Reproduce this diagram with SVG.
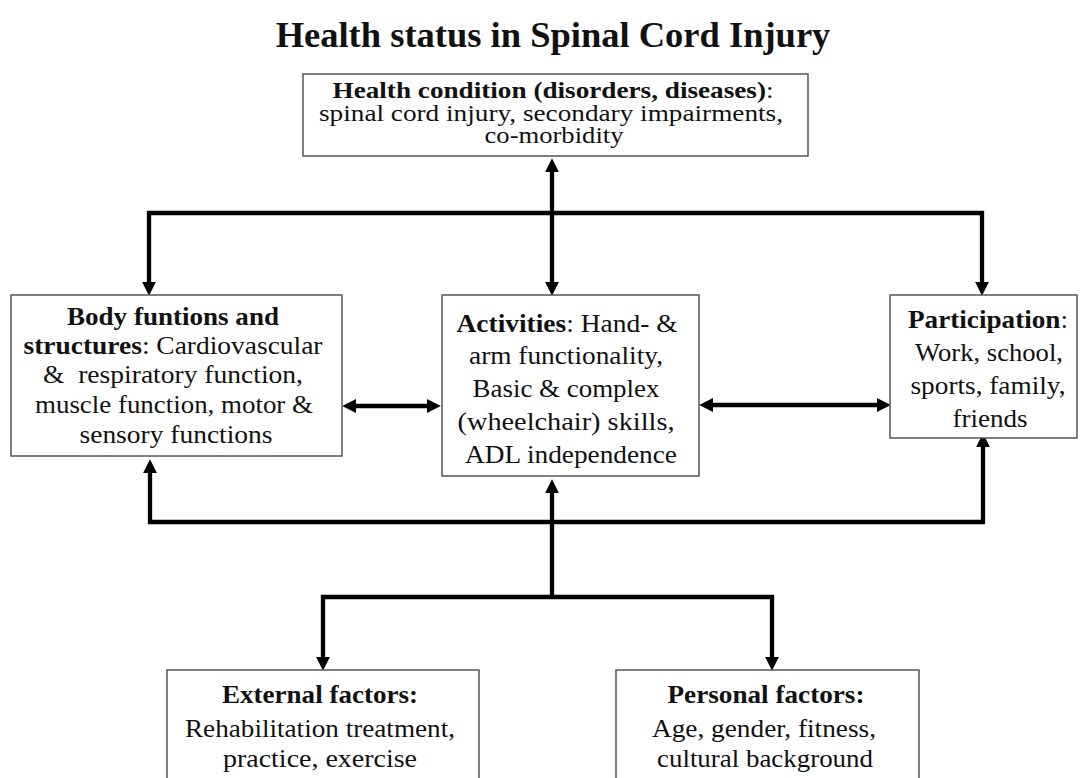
<svg xmlns="http://www.w3.org/2000/svg" width="1083" height="778" viewBox="0 0 1083 778">
<style>
text{font-family:"Liberation Serif","Times New Roman",serif;font-size:25px;fill:#111;text-anchor:middle}
.b{font-weight:bold}
.hc{font-size:23px}
.title{font-size:36.5px;font-weight:bold}
.box{fill:#fff;stroke:#555;stroke-width:1.5}
.con{fill:none;stroke:#000;stroke-width:4.3;stroke-linejoin:miter}
</style>
<defs>
<marker id="ah" markerUnits="userSpaceOnUse" markerWidth="14" markerHeight="14" viewBox="0 0 13 13" refX="3" refY="6.5" orient="auto-start-reverse">
<path d="M0,0 L13,6.5 L0,13 z" fill="#000"/>
</marker>
</defs>
<rect width="1083" height="778" fill="#fff"/>
<text class="title" x="553" y="47">Health status in Spinal Cord Injury</text>

<g id="connectors">
<path class="con" d="M552,169 V285" marker-start="url(#ah)" marker-end="url(#ah)"/>
<path class="con" d="M149,285 V213 H982 V285" marker-start="url(#ah)" marker-end="url(#ah)"/>
<path class="con" d="M353,406 H430" marker-start="url(#ah)" marker-end="url(#ah)"/>
<path class="con" d="M710,405 H880" marker-start="url(#ah)" marker-end="url(#ah)"/>
<path class="con" d="M150,470 V522 H983 V444" marker-start="url(#ah)" marker-end="url(#ah)"/>
<path class="con" d="M552,490 V597" marker-start="url(#ah)"/>
<path class="con" d="M323,660 V597 H772 V660" marker-start="url(#ah)" marker-end="url(#ah)"/>
</g>

<g id="health">
<rect class="box" x="303" y="74" width="505" height="82"/>
<text class="hc" x="553" y="98" textLength="441" lengthAdjust="spacingAndGlyphs"><tspan class="b">Health condition (disorders, diseases)</tspan>:</text>
<text class="hc" x="551" y="121" textLength="464" lengthAdjust="spacingAndGlyphs">spinal cord injury, secondary impairments,</text>
<text class="hc" x="554" y="143" textLength="139" lengthAdjust="spacingAndGlyphs">co-morbidity</text>
</g>

<g id="body">
<rect class="box" x="11" y="295" width="331" height="161"/>
<text x="173" y="325" class="b" textLength="212" lengthAdjust="spacingAndGlyphs">Body funtions and</text>
<text x="173" y="354" textLength="299" lengthAdjust="spacingAndGlyphs"><tspan class="b">structures</tspan>: Cardiovascular</text>
<text x="173" y="383" xml:space="preserve" textLength="260" lengthAdjust="spacingAndGlyphs">&amp;  respiratory function,</text>
<text x="174" y="413" textLength="278" lengthAdjust="spacingAndGlyphs">muscle function, motor &amp;</text>
<text x="176" y="443" textLength="193" lengthAdjust="spacingAndGlyphs">sensory functions</text>
</g>

<g id="activities">
<rect class="box" x="442" y="295" width="257" height="181"/>
<text x="567" y="332" textLength="221" lengthAdjust="spacingAndGlyphs"><tspan class="b">Activities</tspan>: Hand- &amp;</text>
<text x="566" y="364" textLength="194" lengthAdjust="spacingAndGlyphs">arm functionality,</text>
<text x="566" y="397" textLength="187" lengthAdjust="spacingAndGlyphs">Basic &amp; complex</text>
<text x="566" y="430" textLength="217" lengthAdjust="spacingAndGlyphs">(wheelchair) skills,</text>
<text x="571" y="463" textLength="212" lengthAdjust="spacingAndGlyphs">ADL independence</text>
</g>

<g id="participation">
<rect class="box" x="890" y="295" width="187" height="143"/>
<text x="988" y="328" textLength="160" lengthAdjust="spacingAndGlyphs"><tspan class="b">Participation</tspan>:</text>
<text x="989" y="361" textLength="148" lengthAdjust="spacingAndGlyphs">Work, school,</text>
<text x="988" y="394" textLength="155" lengthAdjust="spacingAndGlyphs">sports, family,</text>
<text x="990" y="427" textLength="75" lengthAdjust="spacingAndGlyphs">friends</text>
</g>

<g id="external">
<rect class="box" x="167" y="670" width="312" height="120"/>
<text x="320" y="703" class="b" textLength="196" lengthAdjust="spacingAndGlyphs">External factors:</text>
<text x="320" y="737" textLength="270" lengthAdjust="spacingAndGlyphs">Rehabilitation treatment,</text>
<text x="320" y="767" textLength="194" lengthAdjust="spacingAndGlyphs">practice, exercise</text>
</g>

<g id="personal">
<rect class="box" x="616" y="670" width="303" height="120"/>
<text x="766" y="703" class="b" textLength="197" lengthAdjust="spacingAndGlyphs">Personal factors:</text>
<text x="764" y="737" textLength="224" lengthAdjust="spacingAndGlyphs">Age, gender, fitness,</text>
<text x="765" y="767" textLength="216" lengthAdjust="spacingAndGlyphs">cultural background</text>
</g>
</svg>
